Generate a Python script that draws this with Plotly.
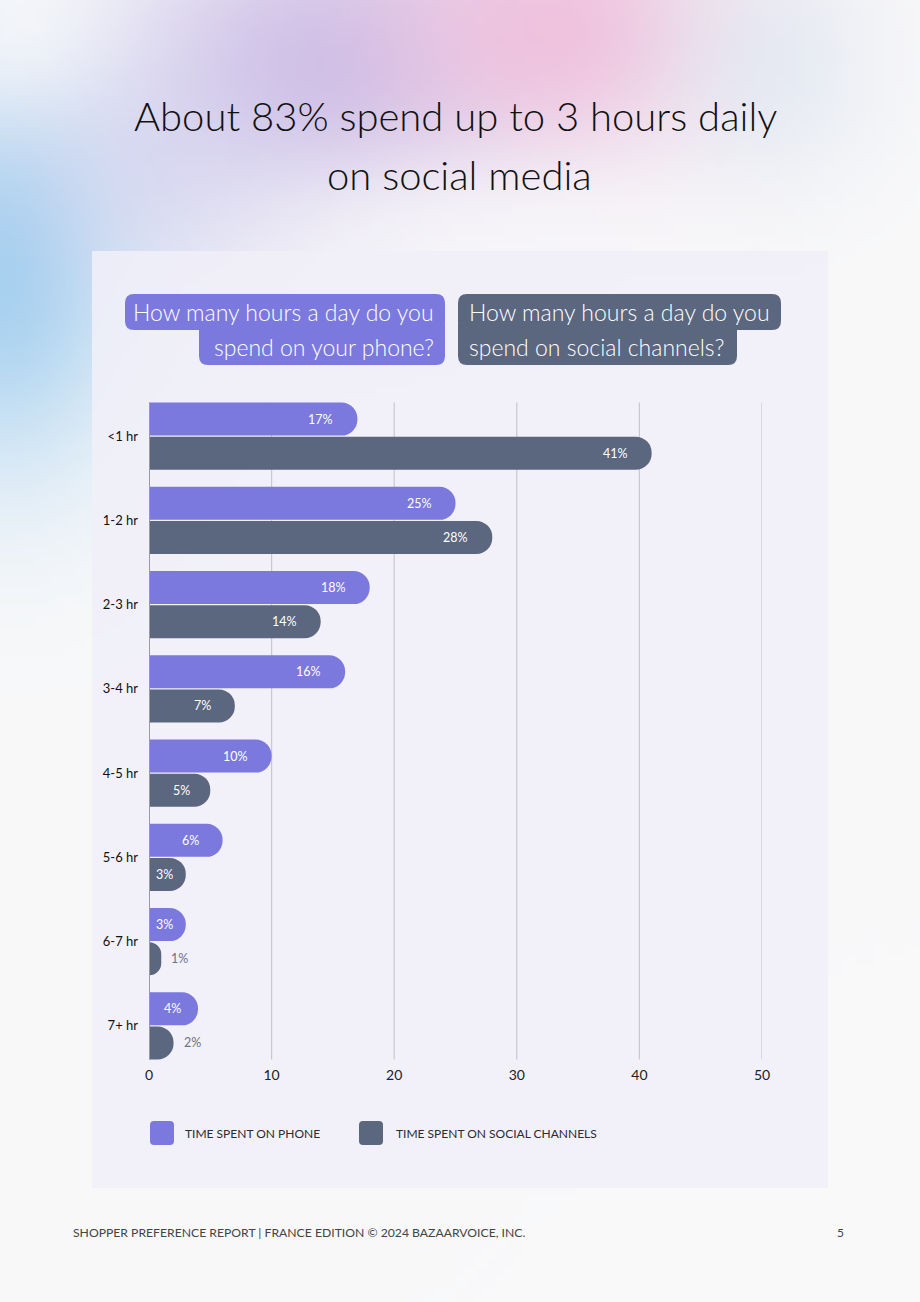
import base64, struct, zlib
import numpy as np
import plotly.graph_objects as go

# ---------------- data ----------------
categories = ["<1 hr", "1-2 hr", "2-3 hr", "3-4 hr", "4-5 hr", "5-6 hr", "6-7 hr", "7+ hr"]
phone = [17, 25, 18, 16, 10, 6, 3, 4]
social = [41, 28, 14, 7, 5, 3, 1, 2]
series_names = ["TIME SPENT ON PHONE", "TIME SPENT ON SOCIAL CHANNELS"]
x_ticks = [0, 10, 20, 30, 40, 50]
title_lines = ["About 83% spend up to 3 hours daily", "on social media"]
q_phone = ["How many hours a day do you", "spend on your phone?"]
q_social = ["How many hours a day do you", "spend on social channels?"]
footer = "SHOPPER PREFERENCE REPORT | FRANCE EDITION © 2024 BAZAARVOICE, INC."
page_no = "5"

W, H = 920, 1302
PURPLE = "#7b79de"
DARK = "#5b667f"
FONT = "Lato"

def X(p):
    return p / W

def Y(p):
    return 1 - p / H

# ---------------- background gradient image ----------------
PAD = 30  # image extends beyond the page so edge smoothing is invisible

def make_bg():
    gw, gh = 98, 136
    xs = -PAD + (np.arange(gw) + 0.5) * (W + 2 * PAD) / gw
    ys = -PAD + (np.arange(gh) + 0.5) * (H + 2 * PAD) / gh
    xx, yy = np.meshgrid(xs, ys)
    img = np.zeros((gh, gw, 3)) + np.array([249, 249, 250], float)
    blobs = [
        # cx, cy, rx, ry, color, strength
        (0, 270, 140, 200, (166, 209, 240), 1.0),
        (330, 70, 210, 160, (200, 186, 230), 0.9),
        (560, 30, 180, 130, (240, 190, 220), 0.9),
        (770, 70, 110, 120, (220, 232, 242), 0.6),
        (180, 190, 130, 110, (205, 205, 238), 0.45),
    ]
    for cx, cy, rx, ry, col, s in blobs:
        d2 = ((xx - cx) / rx) ** 2 + ((yy - cy) / ry) ** 2
        w = s * np.exp(-d2)
        img = img * (1 - w[..., None]) + np.array(col, float) * w[..., None]
    # lighter zones
    for cx, cy, rx, ry, s in [(470, 235, 230, 80, 0.7), (20, 20, 90, 90, 0.7)]:
        d2 = ((xx - cx) / rx) ** 2 + ((yy - cy) / ry) ** 2
        w = s * np.exp(-d2)
        img = img * (1 - w[..., None]) + np.array([249, 249, 251], float) * w[..., None]
    img = np.clip(img, 0, 255).astype(np.uint8)
    raw = b"".join(b"\x00" + img[r].tobytes() for r in range(gh))
    def chunk(t, d):
        c = struct.pack(">I", len(d)) + t + d
        return c + struct.pack(">I", zlib.crc32(t + d) & 0xffffffff)
    png = b"\x89PNG\r\n\x1a\n" + chunk(b"IHDR", struct.pack(">IIBBBBB", gw, gh, 8, 2, 0, 0, 0)) \
        + chunk(b"IDAT", zlib.compress(raw, 9)) + chunk(b"IEND", b"")
    return "data:image/png;base64," + base64.b64encode(png).decode()

def rrect(x0, y0, x1, y1, r):
    rx, ry = r / W, r / H
    a, b, c, d = X(x0), Y(y0), X(x1), Y(y1)
    return (f"M{a+rx},{b} L{c-rx},{b} Q{c},{b} {c},{b-ry} L{c},{d+ry} Q{c},{d} {c-rx},{d} "
            f"L{a+rx},{d} Q{a},{d} {a},{d+ry} L{a},{b-ry} Q{a},{b} {a+rx},{b} Z")

fig = go.Figure()

fig.add_trace(go.Bar(y=categories, x=phone, orientation="h", name=series_names[0],
                     marker=dict(color=PURPLE, line=dict(width=0)), hoverinfo="skip"))
fig.add_trace(go.Bar(y=categories, x=social, orientation="h", name=series_names[1],
                     marker=dict(color=DARK, line=dict(width=0)), hoverinfo="skip"))

# plot area geometry
px0, px1 = 149, 762
py0, py1 = 394, 1068
xmax = 50
ppu = (px1 - px0) / xmax

shapes = []
annotations = []

# panel
shapes.append(dict(type="rect", xref="paper", yref="paper", x0=X(92), x1=X(828), y0=Y(251), y1=Y(1188),
                   fillcolor="rgba(240,239,248,0.88)", line=dict(width=0), layer="below"))

# question boxes
shapes.append(dict(type="path", xref="paper", yref="paper", path=rrect(125, 294, 445, 330, 9),
                   fillcolor=PURPLE, line=dict(width=0), layer="below"))
shapes.append(dict(type="path", xref="paper", yref="paper", path=rrect(199, 316, 445, 365, 9),
                   fillcolor=PURPLE, line=dict(width=0), layer="below"))
shapes.append(dict(type="path", xref="paper", yref="paper", path=rrect(458, 294, 781, 330, 9),
                   fillcolor=DARK, line=dict(width=0), layer="below"))
shapes.append(dict(type="path", xref="paper", yref="paper", path=rrect(458, 316, 737, 365, 9),
                   fillcolor=DARK, line=dict(width=0), layer="below"))

qfont = dict(family=FONT, size=23, color="white", weight=300)
annotations.append(dict(xref="paper", yref="paper", x=X(436), y=Y(312), text=q_phone[0], showarrow=False,
                        xanchor="right", yanchor="middle", font=qfont))
annotations.append(dict(xref="paper", yref="paper", x=X(436), y=Y(347), text=q_phone[1], showarrow=False,
                        xanchor="right", yanchor="middle", font=qfont))
annotations.append(dict(xref="paper", yref="paper", x=X(467), y=Y(312), text=q_social[0], showarrow=False,
                        xanchor="left", yanchor="middle", font=qfont))
annotations.append(dict(xref="paper", yref="paper", x=X(467), y=Y(347), text=q_social[1], showarrow=False,
                        xanchor="left", yanchor="middle", font=qfont))

# title
tfont = dict(family=FONT, size=40, color="#111111", weight=300)
annotations.append(dict(xref="paper", yref="paper", x=X(455), y=Y(116), text=title_lines[0], showarrow=False,
                        xanchor="center", yanchor="middle", font=tfont))
annotations.append(dict(xref="paper", yref="paper", x=X(459), y=Y(175), text=title_lines[1], showarrow=False,
                        xanchor="center", yanchor="middle", font=tfont))

# gridlines and axis line
for t in x_ticks[1:]:
    shapes.append(dict(type="line", xref="x", yref="y", x0=t, x1=t, y0=-0.4, y1=len(categories) - 0.6,
                       line=dict(color="#c9c8d0", width=1.2), layer="below"))
shapes.append(dict(type="line", xref="x", yref="y", x0=0, x1=0, y0=-0.4, y1=len(categories) - 0.6,
                   line=dict(color="#9b9aa2", width=2), layer="above"))

# bar value labels
for i, cat in enumerate(categories):
    for vals, dy in [(phone, -1), (social, 1)]:
        v = vals[i]
        bar_px = v * ppu
        if bar_px >= 30:
            gap = min(22, bar_px * 0.3)
            annotations.append(dict(xref="x", yref="y", x=v, y=cat, text=f"{v}%", showarrow=False,
                                    xanchor="right", yanchor="middle", xshift=-gap, yshift=-dy * 17,
                                    font=dict(family=FONT, size=12.5, color="white", weight=400)))
        else:
            annotations.append(dict(xref="x", yref="y", x=v, y=cat, text=f"{v}%", showarrow=False,
                                    xanchor="left", yanchor="middle", xshift=8, yshift=-dy * 17,
                                    font=dict(family=FONT, size=12.5, color="#6b7288", weight=400)))

# legend (manual)
lfont = dict(family=FONT, size=12, color="#2b2b33")
for (sx, tx, col, name) in [(150, 183, PURPLE, series_names[0]), (359, 394, DARK, series_names[1])]:
    shapes.append(dict(type="path", xref="paper", yref="paper", path=rrect(sx, 1121, sx + 24, 1145, 4),
                       fillcolor=col, line=dict(width=0)))
    annotations.append(dict(xref="paper", yref="paper", x=X(tx), y=Y(1133), text=name, showarrow=False,
                            xanchor="left", yanchor="middle", font=lfont))

# footer
annotations.append(dict(xref="paper", yref="paper", x=X(71), y=Y(1232), text=footer, showarrow=False,
                        xanchor="left", yanchor="middle", font=dict(family=FONT, size=12.2, color="#444444")))
annotations.append(dict(xref="paper", yref="paper", x=X(846), y=Y(1232), text=page_no, showarrow=False,
                        xanchor="right", yanchor="middle", font=dict(family=FONT, size=12, color="#444444")))

fig.update_layout(
    width=W, height=H,
    margin=dict(l=0, r=0, t=0, b=0, pad=0, autoexpand=False),
    paper_bgcolor="#f9f9fa",
    plot_bgcolor="rgba(0,0,0,0)",
    barmode="group",
    bargap=0.19,
    bargroupgap=0.03,
    barcornerradius=17,
    showlegend=False,
    images=[dict(source=make_bg(), xref="paper", yref="paper", x=-PAD / W, y=1 + PAD / H,
                 sizex=1 + 2 * PAD / W, sizey=1 + 2 * PAD / H,
                 sizing="stretch", layer="below", xanchor="left", yanchor="top")],
    xaxis=dict(domain=[X(px0), X(px1)], range=[0, xmax], tickvals=x_ticks, showgrid=False,
               zeroline=False, showline=False, ticks="", automargin=False, ticklabelstandoff=-3,
               tickfont=dict(family=FONT, size=14, color="#222222"), fixedrange=True),
    yaxis=dict(domain=[Y(py1), Y(py0)], autorange="reversed", showgrid=False, zeroline=False,
               showline=False, ticks="", ticklabelstandoff=10, automargin=False,
               tickfont=dict(family=FONT, size=13, color="#111111"), fixedrange=True),
    shapes=shapes,
    annotations=annotations,
    font=dict(family=FONT),
)

fig.write_html("out.html", config={"displayModeBar": False},
               post_script="document.body.style.margin='0';document.body.style.overflow='hidden';")
